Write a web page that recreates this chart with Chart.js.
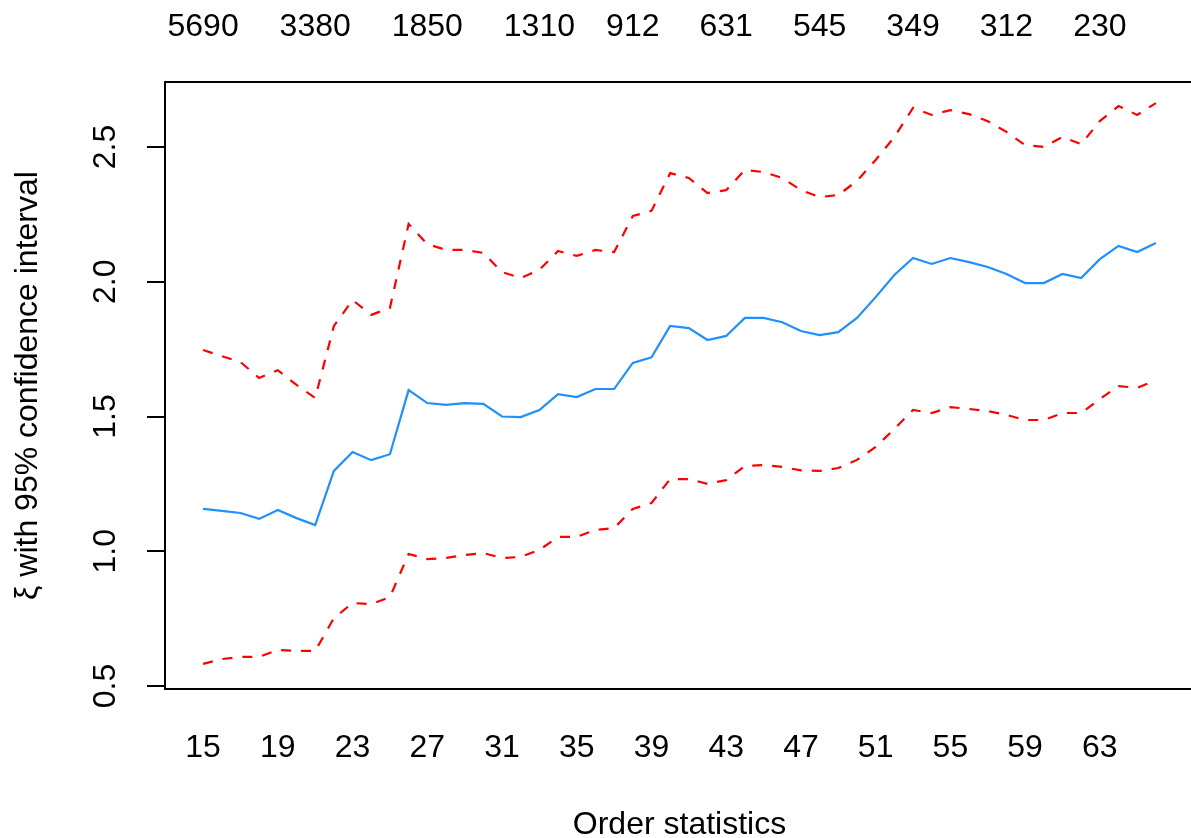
<!DOCTYPE html>
<html>
<head>
<meta charset="utf-8">
<script src="https://cdn.jsdelivr.net/npm/chart.js@4"></script>
<style>
html,body{margin:0;padding:0;background:#fff;overflow:hidden;width:1191px;height:838px}
canvas{display:block}
</style>
</head>
<body>
<canvas id="grafico" width="1200" height="838" style="width:1200px;height:838px"></canvas>
<script>

// dados

const ordem = [15,16,17,18,19,20,21,22,23,24,25,26,27,28,29,30,31,32,33,34,35,36,37,38,39,40,
41,42,43,44,45,46,47,48,49,50,51,52,53,54,55,56,57,58,59,60,61,62,63,64,65,66];

const xi = [1.157,1.150,1.142,1.120,1.153,1.123,1.097,1.298,1.368,1.338,1.360,1.598,1.550,1.543,1.550,1.547,
1.500,1.498,1.524,1.583,1.572,1.602,1.602,1.699,1.720,1.836,1.828,1.784,1.799,1.866,1.866,1.850,
1.817,1.802,1.813,1.866,1.943,2.025,2.088,2.066,2.088,2.073,2.055,2.029,1.995,1.995,2.029,2.014,
2.084,2.133,2.110,2.144];

const superior = [1.747,1.724,1.702,1.643,1.672,1.617,1.569,1.836,1.932,1.877,1.903,2.214,2.140,2.118,2.118,2.107,
2.036,2.014,2.044,2.114,2.096,2.118,2.110,2.244,2.263,2.403,2.385,2.329,2.340,2.415,2.407,2.385,
2.340,2.314,2.322,2.374,2.452,2.537,2.645,2.619,2.637,2.622,2.596,2.556,2.507,2.500,2.537,2.511,
2.596,2.652,2.619,2.663];

const inferior = [0.582,0.600,0.608,0.608,0.634,0.630,0.630,0.752,0.808,0.804,0.830,0.990,0.971,0.975,0.986,0.993,
0.975,0.979,1.005,1.053,1.053,1.079,1.086,1.157,1.179,1.268,1.268,1.250,1.264,1.316,1.320,1.313,
1.300,1.298,1.309,1.339,1.387,1.454,1.524,1.513,1.535,1.528,1.520,1.506,1.487,1.487,1.513,1.513,
1.565,1.613,1.606,1.635];

const ticksBaixo = [15,19,23,27,31,35,39,43,47,51,55,59,63];

const posicoesTopo = [15,21,27,33,38,43,48,53,58,63];
const rotulosTopo = ["5690","3380","1850","1310","912","631","545","349","312","230"];

const ticksY = [0.5,1.0,1.5,2.0,2.5];


const fonte = {family:"'Liberation Sans', Arial, sans-serif", size:32, lineHeight:1.2};

function pontos(valores){
return valores.map((v,i)=>({x:ordem[i], y:v}));
}


// caixa em volta da area do grafico

const caixa = {
id:"caixa",
afterDraw(chart){
const a = chart.chartArea;
const ctx = chart.ctx;
ctx.save();
ctx.strokeStyle = "#000";
ctx.lineWidth = 2;
ctx.strokeRect(a.left, a.top, a.right - a.left, a.bottom - a.top);
ctx.restore();
}
};


// rotulos do eixo y girados como no R

const rotulosY = {
id:"rotulosY",
afterDraw(chart){
const y = chart.scales.y;
const ctx = chart.ctx;
ctx.save();
ctx.fillStyle = "#000";
ctx.font = "32px 'Liberation Sans', Arial, sans-serif";
ctx.textAlign = "center";
ctx.textBaseline = "middle";
ticksY.forEach(v=>{
ctx.save();
ctx.translate(106, y.getPixelForValue(v));
ctx.rotate(-Math.PI/2);
ctx.fillText(v.toFixed(1), 0, 0);
ctx.restore();
});
ctx.restore();
}
};


new Chart(

document.getElementById("grafico"),

{

type:"line",

data:{

datasets:[

{
label:"xi",
data:pontos(xi),
borderColor:"#1E90FF",
borderWidth:2.2,
pointRadius:0,
tension:0,
fill:false
},

{
label:"superior",
data:pontos(superior),
borderColor:"#FF0000",
borderWidth:2.2,
borderDash:[10,10],
pointRadius:0,
tension:0,
fill:false
},

{
label:"inferior",
data:pontos(inferior),
borderColor:"#FF0000",
borderWidth:2.2,
borderDash:[10,10],
pointRadius:0,
tension:0,
fill:false
}

]

},

options:{

responsive:false,
animation:false,
events:[],

layout:{padding:{left:0, right:6, top:0, bottom:0}},

plugins:{
legend:{display:false},
tooltip:{enabled:false}
},

scales:{

x:{
type:"linear",
position:"bottom",
min:12.96,
max:68.04,
afterBuildTicks:s=>{ s.ticks = ticksBaixo.map(v=>({value:v})); },
afterFit:s=>{ s.height = 149; },
grid:{display:false, drawTicks:false},
border:{display:false},
ticks:{
padding:40,
color:"#000",
font:fonte,
maxRotation:0,
autoSkip:false,
callback:v=>String(v)
},
title:{
display:true,
text:"Order statistics",
color:"#000",
font:{family:fonte.family, size:32, lineHeight:1},
padding:{top:0, bottom:-3}
}
},

x2:{
type:"linear",
position:"top",
min:12.96,
max:68.04,
afterBuildTicks:s=>{ s.ticks = posicoesTopo.map(v=>({value:v})); },
afterFit:s=>{ s.height = 82; },
grid:{display:false, drawTicks:false},
border:{display:false},
ticks:{
padding:36,
color:"#000",
font:fonte,
maxRotation:0,
autoSkip:false,
callback:v=>rotulosTopo[posicoesTopo.indexOf(v)]
}
},

y:{
type:"linear",
position:"left",
min:0.4889,
max:2.7412,
afterBuildTicks:s=>{ s.ticks = ticksY.map(v=>({value:v})); },
afterFit:s=>{ s.width = 165; },
grid:{drawOnChartArea:false, drawTicks:true, tickLength:18, color:"#000", lineWidth:2},
border:{display:false},
ticks:{display:false},
title:{
display:true,
text:"ξ with 95% confidence interval",
color:"#000",
font:{family:fonte.family, size:32, lineHeight:1},
padding:{top:12, bottom:0}
}
}

}

},

plugins:[caixa, rotulosY]

}

);

</script>
</body>
</html>
